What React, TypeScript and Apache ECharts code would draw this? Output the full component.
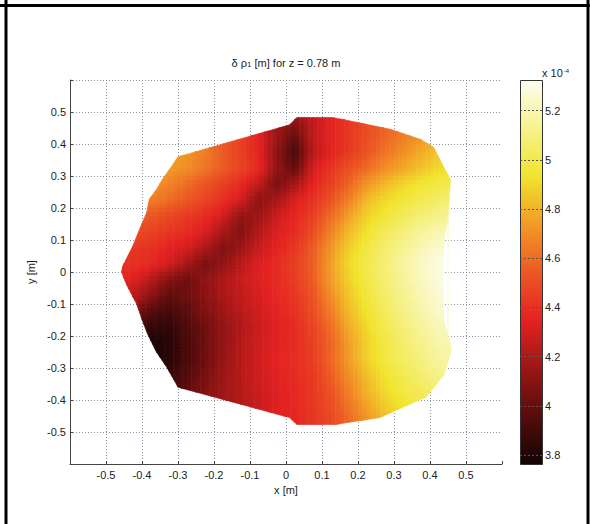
import React, { useEffect, useRef } from "react";
import * as echarts from "echarts";

const N = null;

// centres of the sampled cells (m)
const xCenters = [-0.475, -0.425, -0.375, -0.325, -0.275, -0.225, -0.175, -0.125, -0.075, -0.025, 0.025, 0.075, 0.125, 0.175, 0.225, 0.275, 0.325, 0.375, 0.425, 0.475];
const yCenters = [0.475, 0.425, 0.375, 0.325, 0.275, 0.225, 0.175, 0.125, 0.075, 0.025, -0.025, -0.075, -0.125, -0.175, -0.225, -0.275, -0.325, -0.375, -0.425, -0.475];
const cellSize = 0.05;

// δρ1 in units of 1e-4 m, one row per y centre (top to bottom)
const deltaRho: (number | null)[][] = [
  [N, N, N, N, N, N, N, N, N, 4.15, 4.12, 4.25, 4.35, 4.42, 4.5, 4.55, N, N, N, N],
  [N, N, N, N, N, N, 4.55, 4.45, 4.35, 4.15, 4.0, 4.25, 4.35, 4.42, 4.5, 4.58, 4.65, 4.72, 4.78, N],
  [N, N, N, 4.75, 4.72, 4.65, 4.55, 4.45, 4.35, 4.12, 3.92, 4.22, 4.35, 4.43, 4.52, 4.62, 4.7, 4.78, 4.85, N],
  [N, N, N, 4.74, 4.7, 4.63, 4.55, 4.47, 4.38, 4.12, 3.98, 4.3, 4.42, 4.51, 4.6, 4.7, 4.77, 4.84, 4.9, 4.93],
  [N, N, 4.72, 4.67, 4.6, 4.53, 4.45, 4.38, 4.25, 4.05, 4.18, 4.35, 4.45, 4.58, 4.72, 4.82, 4.89, 4.94, 4.98, 5.0],
  [N, N, 4.65, 4.6, 4.54, 4.47, 4.4, 4.3, 4.1, 4.18, 4.32, 4.4, 4.52, 4.66, 4.82, 4.9, 4.95, 5.0, 5.05, 5.08],
  [N, 4.55, 4.53, 4.48, 4.43, 4.38, 4.3, 4.12, 4.15, 4.28, 4.36, 4.45, 4.6, 4.75, 4.88, 4.95, 5.02, 5.08, 5.12, 5.15],
  [N, 4.5, 4.46, 4.42, 4.38, 4.32, 4.18, 4.08, 4.22, 4.32, 4.38, 4.5, 4.67, 4.82, 4.93, 5.02, 5.09, 5.15, 5.2, 5.22],
  [4.43, 4.42, 4.4, 4.35, 4.3, 4.2, 4.07, 4.15, 4.27, 4.35, 4.42, 4.55, 4.72, 4.87, 4.97, 5.06, 5.13, 5.2, 5.25, 5.27],
  [4.4, 4.4, 4.37, 4.3, 4.18, 4.05, 4.12, 4.23, 4.32, 4.38, 4.45, 4.56, 4.75, 4.9, 5.0, 5.08, 5.16, 5.23, 5.29, 5.3],
  [4.38, 4.33, 4.22, 4.08, 4.02, 4.12, 4.2, 4.27, 4.33, 4.38, 4.44, 4.55, 4.74, 4.88, 4.98, 5.07, 5.15, 5.22, 5.28, 5.3],
  [4.3, 4.25, 4.1, 3.98, 4.02, 4.1, 4.18, 4.25, 4.31, 4.37, 4.42, 4.52, 4.7, 4.85, 4.96, 5.05, 5.13, 5.2, 5.26, 5.28],
  [N, 4.08, 3.95, 3.9, 3.97, 4.07, 4.15, 4.23, 4.29, 4.35, 4.4, 4.5, 4.65, 4.82, 4.93, 5.03, 5.11, 5.18, 5.24, 5.26],
  [N, 3.9, 3.85, 3.85, 3.93, 4.03, 4.12, 4.2, 4.28, 4.34, 4.38, 4.47, 4.6, 4.78, 4.9, 5.0, 5.08, 5.15, 5.21, 5.23],
  [N, N, 3.77, 3.82, 3.92, 4.02, 4.12, 4.22, 4.29, 4.34, 4.38, 4.45, 4.58, 4.74, 4.88, 4.97, 5.05, 5.12, 5.18, 5.2],
  [N, N, 3.8, 3.83, 3.92, 4.02, 4.13, 4.22, 4.29, 4.35, 4.39, 4.45, 4.58, 4.74, 4.88, 4.97, 5.04, 5.1, 5.16, 5.18],
  [N, N, N, 3.86, 3.95, 4.05, 4.15, 4.22, 4.29, 4.34, 4.38, 4.43, 4.55, 4.7, 4.83, 4.93, 5.0, 5.06, 5.12, N],
  [N, N, N, 3.92, 3.98, 4.08, 4.16, 4.22, 4.28, 4.33, 4.37, 4.42, 4.52, 4.66, 4.8, 4.9, 4.97, 5.02, 5.07, N],
  [N, N, N, N, N, N, 4.14, 4.2, 4.27, 4.33, 4.37, 4.42, 4.5, 4.62, 4.75, 4.86, 4.93, 4.98, N, N],
  [N, N, N, N, N, N, N, N, N, 4.32, 4.36, 4.41, 4.48, 4.58, 4.7, 4.8, N, N, N, N],
];

// outline of the measured region (x, y in m)
const outline: [number, number][] = [
  [0.03, 0.483], [0.13, 0.483], [0.2, 0.467], [0.29, 0.446], [0.373, 0.415], [0.41, 0.39],
  [0.437, 0.33], [0.457, 0.29], [0.452, 0.2], [0.44, 0.1], [0.437, 0.0], [0.435, -0.08],
  [0.44, -0.16], [0.46, -0.24], [0.44, -0.32], [0.39, -0.39], [0.26, -0.455], [0.14, -0.476],
  [0.03, -0.476], [0.01, -0.455], [-0.3, -0.36], [-0.33, -0.3], [-0.36, -0.25], [-0.384, -0.195],
  [-0.398, -0.155], [-0.415, -0.1], [-0.443, -0.04], [-0.457, 0.0], [-0.454, 0.018], [-0.426, 0.08],
  [-0.407, 0.133], [-0.387, 0.186], [-0.38, 0.227], [-0.36, 0.258], [-0.343, 0.29], [-0.318, 0.33],
  [-0.3, 0.36], [0.01, 0.46],
];

const colorMin = 3.76;
const colorMax = 5.32;
const hotColors = ["#120404", "#560c0c", "#9c1616", "#e32222", "#ec5824", "#f29a27", "#f1e42e", "#f6f28c", "#fdfdf2"];

const FONT = "'Liberation Sans', Arial, Helvetica, sans-serif";
const SUB = 4; // shading subdivisions per cell (interp-style shading)

type P = [number, number];
function clipToRect(poly: P[], x0: number, x1: number, y0: number, y1: number): P[] {
  const edges = [
    { ins: (p: P) => p[0] >= x0, cut: (a: P, b: P): P => { const t = (x0 - a[0]) / (b[0] - a[0]); return [x0, a[1] + t * (b[1] - a[1])]; } },
    { ins: (p: P) => p[0] <= x1, cut: (a: P, b: P): P => { const t = (x1 - a[0]) / (b[0] - a[0]); return [x1, a[1] + t * (b[1] - a[1])]; } },
    { ins: (p: P) => p[1] >= y0, cut: (a: P, b: P): P => { const t = (y0 - a[1]) / (b[1] - a[1]); return [a[0] + t * (b[0] - a[0]), y0]; } },
    { ins: (p: P) => p[1] <= y1, cut: (a: P, b: P): P => { const t = (y1 - a[1]) / (b[1] - a[1]); return [a[0] + t * (b[0] - a[0]), y1]; } },
  ];
  let out = poly;
  for (const e of edges) {
    const input = out;
    out = [];
    if (!input.length) break;
    for (let i = 0; i < input.length; i++) {
      const cur = input[i];
      const prev = input[(i + input.length - 1) % input.length];
      const ci = e.ins(cur);
      const pi = e.ins(prev);
      if (ci) {
        if (!pi) out.push(e.cut(prev, cur));
        out.push(cur);
      } else if (pi) {
        out.push(e.cut(prev, cur));
      }
    }
  }
  return out;
}

// shading value at a point, blended from the four surrounding sampled cells
function shadeAt(x: number, y: number, own: number): number {
  const nx = xCenters.length;
  const ny = yCenters.length;
  let j0 = Math.floor((x - xCenters[0]) / cellSize);
  let i0 = Math.floor((yCenters[0] - y) / cellSize);
  j0 = Math.max(0, Math.min(nx - 2, j0));
  i0 = Math.max(0, Math.min(ny - 2, i0));
  const tx = Math.max(0, Math.min(1, (x - xCenters[j0]) / cellSize));
  const ty = Math.max(0, Math.min(1, (yCenters[i0] - y) / cellSize));
  const raw = [deltaRho[i0][j0], deltaRho[i0][j0 + 1], deltaRho[i0 + 1][j0], deltaRho[i0 + 1][j0 + 1]];
  const w = [(1 - tx) * (1 - ty), tx * (1 - ty), (1 - tx) * ty, tx * ty];
  let s = 0;
  let ws = 0;
  raw.forEach((v, k) => {
    if (v !== null) {
      s += v * w[k];
      ws += w[k];
    }
  });
  return ws > 1e-9 ? s / ws : own;
}

function tickFmt(v: number): string {
  if (Math.abs(v) > 0.55) return "";
  const r = Math.round(v * 10) / 10;
  return r === 0 ? "0" : String(r);
}

export default function App() {
  const ref = useRef<HTMLDivElement>(null);
  useEffect(() => {
    if (!ref.current) return;
    const chart = echarts.init(ref.current, undefined, { renderer: "svg" });

    const data: number[][] = [];
    deltaRho.forEach((row, i) => {
      row.forEach((v, j) => {
        if (v !== null) data.push([xCenters[j], yCenters[i], v]);
      });
    });

    const half = cellSize / 2;
    const n = hotColors.length;
    const barStops = hotColors.map((c, i) => ({ offset: 1 - i / (n - 1), color: c })).reverse();

    const axisLabel = { color: "#222", fontSize: 11, fontFamily: FONT };
    const gridLine = { show: true, lineStyle: { color: "#8a96a8", width: 1, type: [1, 2] as any } };

    chart.setOption({
      animation: false,
      backgroundColor: "#ffffff",
      textStyle: { fontFamily: FONT },
      grid: [
        { left: 70, top: 80, width: 432, height: 384, containLabel: false },
        { left: 520, top: 81, width: 22, height: 384, containLabel: false },
      ],
      xAxis: [
        {
          type: "value", gridIndex: 0, min: -0.6, max: 0.6, interval: 0.1,
          axisLine: { show: true, onZero: false, lineStyle: { color: "#444", width: 1 } },
          axisTick: { show: true, inside: true, length: 3, lineStyle: { color: "#444" } },
          axisLabel: { ...axisLabel, margin: 5, formatter: tickFmt, showMinLabel: true, showMaxLabel: true },
          splitLine: { ...gridLine, showMinLine: false, showMaxLine: false },
          name: "x [m]", nameLocation: "middle", nameGap: 19,
          nameTextStyle: { color: "#222", fontSize: 11, fontFamily: FONT },
        },
        { type: "value", gridIndex: 1, min: 0, max: 1, show: false },
      ],
      yAxis: [
        {
          type: "value", gridIndex: 0, min: -0.6, max: 0.6, interval: 0.1,
          axisLine: { show: true, onZero: false, lineStyle: { color: "#444", width: 1 } },
          axisTick: { show: true, inside: true, length: 3, lineStyle: { color: "#444" } },
          axisLabel: { ...axisLabel, margin: 4, formatter: tickFmt },
          splitLine: { ...gridLine, showMinLine: false, showMaxLine: true },
          name: "y [m]", nameLocation: "middle", nameGap: 28, nameRotate: 90,
          nameTextStyle: { color: "#222", fontSize: 11, fontFamily: FONT },
        },
        {
          type: "value", gridIndex: 1, position: "right", min: colorMin, max: colorMax,
          splitNumber: 8, minInterval: 0.2, maxInterval: 0.2,
          axisLine: { show: false },
          axisTick: { show: false },
          axisLabel: {
            ...axisLabel, margin: 3,
            formatter: (v: number) => (Math.abs(v * 5 - Math.round(v * 5)) < 1e-6 ? String(Math.round(v * 10) / 10) : ""),
          },
          splitLine: { show: true, showMinLine: false, showMaxLine: false, lineStyle: { color: "#555", width: 1, type: [2, 2] as any } },
        },
      ],
      visualMap: {
        type: "continuous", show: false, min: colorMin, max: colorMax,
        dimension: 2, seriesIndex: 0, inRange: { color: hotColors },
      },
      series: [
        {
          type: "custom",
          coordinateSystem: "cartesian2d",
          xAxisIndex: 0,
          yAxisIndex: 0,
          encode: { x: 0, y: 1 },
          data,
          renderItem: (params: any, api: any) => {
            const cx = api.value(0);
            const cy = api.value(1);
            const own = api.value(2);
            const step = cellSize / SUB;
            const children: any[] = [];
            for (let a = 0; a < SUB; a++) {
              for (let b = 0; b < SUB; b++) {
                const sx0 = cx - half + a * step;
                const sy0 = cy - half + b * step;
                const poly = clipToRect(outline, sx0, sx0 + step, sy0, sy0 + step);
                if (poly.length < 3) continue;
                const v = shadeAt(sx0 + step / 2, sy0 + step / 2, own);
                const t = Math.max(0, Math.min(1, (v - colorMin) / (colorMax - colorMin)));
                const color = echarts.color.lerp(t, hotColors);
                children.push({
                  type: "polygon",
                  shape: { points: poly.map((p) => api.coord(p)) },
                  style: { fill: color, stroke: color, lineWidth: 0.6 },
                });
              }
            }
            if (!children.length) return null;
            return { type: "group", children };
          },
        },
      ],
      graphic: [
        { type: "rect", z: -1, shape: { x: 520.5, y: 80.5, width: 22, height: 384 },
          style: { fill: new echarts.graphic.LinearGradient(0, 0, 0, 1, barStops), stroke: "#333", lineWidth: 1 } },
        { type: "line", shape: { x1: 0, y1: 5.5, x2: 590, y2: 5.5 }, style: { stroke: "#000", lineWidth: 3 } },
        { type: "line", shape: { x1: 6, y1: 0, x2: 6, y2: 524 }, style: { stroke: "#000", lineWidth: 3 } },
        { type: "line", shape: { x1: 588, y1: 0, x2: 588, y2: 524 }, style: { stroke: "#000", lineWidth: 3 } },
        {
          type: "text", x: 286, y: 63,
          style: {
            text: "δ ρ{s|1} [m] for z = 0.78 m",
            fill: "#222", fontSize: 11, fontFamily: FONT,
            align: "center", verticalAlign: "middle",
            textAlign: "center", textVerticalAlign: "middle",
            rich: { s: { fontSize: 8, lineHeight: 8, verticalAlign: "bottom", fill: "#222", fontFamily: FONT } },
          } as any,
        },
        {
          type: "text", x: 542, y: 73,
          style: {
            text: "x 10{p|-4}",
            fill: "#222", fontSize: 11, fontFamily: FONT,
            align: "left", verticalAlign: "middle",
            textAlign: "left", textVerticalAlign: "middle",
            rich: { p: { fontSize: 6, lineHeight: 6, verticalAlign: "top", fill: "#222", fontFamily: FONT, padding: [0, 0, 6, 1] } },
          } as any,
        },
      ],
    });
    return () => chart.dispose();
  }, []);
  return <div ref={ref} style={{ position: "absolute", left: 0, top: 0, width: 590, height: 524 }} />;
}
